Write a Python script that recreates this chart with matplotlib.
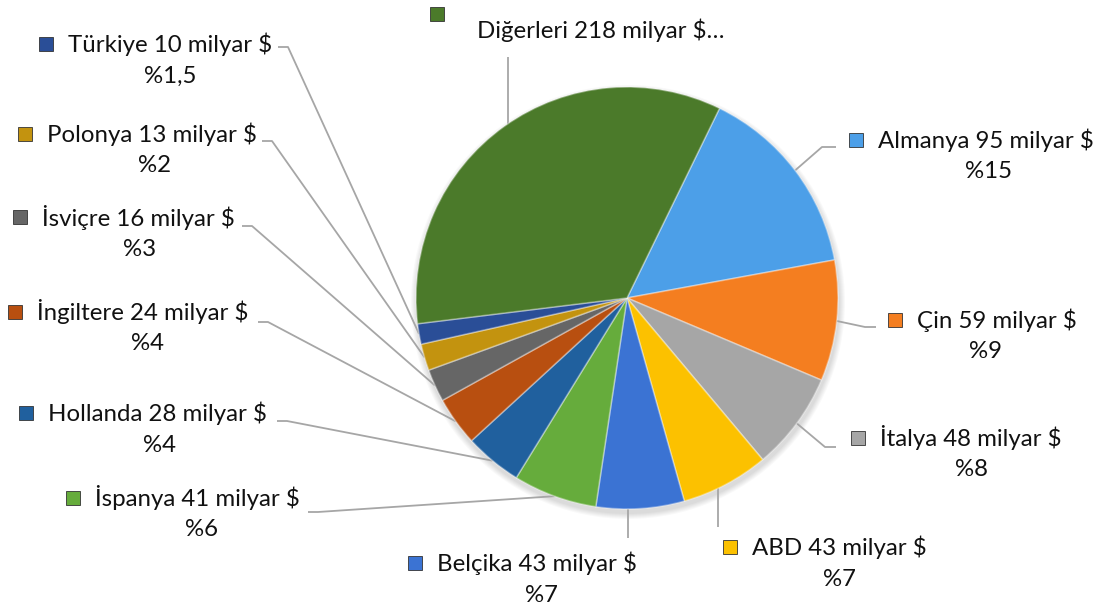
import numpy as np
import matplotlib.pyplot as plt
from matplotlib.patches import Circle

W, H = 1106, 607

# data
names = ["Almanya", "Çin", "İtalya", "ABD", "Belçika", "İspanya", "Hollanda",
         "İngiltere", "İsviçre", "Polonya", "Türkiye", "Diğerleri"]
values = [95, 59, 48, 43, 43, 41, 28, 24, 16, 13, 10, 218]
pct_labels = ["%15", "%9", "%8", "%7", "%7", "%6", "%4", "%4", "%3", "%2", "%1,5", ""]
colors = ["#4c9fe8", "#f47e20", "#a6a6a6", "#fcc100", "#3b73d3", "#66ac3c",
          "#20609e", "#b84f10", "#666666", "#c3930f", "#2a4e97", "#4b7a2a"]

# label layout (pixel coords, y from top): text left x, line1 y, pct centre x,
# connector end (x, y), elbow (x, y) or None for a straight vertical leader
layout = {
    "Almanya":   (878, 140, 988, (836, 147), (822, 147)),
    "Çin":       (917, 320, 985, (876, 327), (865, 327)),
    "İtalya":    (880, 438, 972, (836, 447), (825, 447)),
    "ABD":       (752, 547, 840, (718, 527), None),
    "Belçika":   (437, 563, 541, (628, 538), None),
    "İspanya":   (95, 498, 202, (308, 512), (318, 512)),
    "Hollanda":  (48, 413, 160, (277, 421), (287, 421)),
    "İngiltere": (37, 312, 148, (258, 322), (268, 322)),
    "İsviçre":   (42, 217, 140, (242, 226), (252, 226)),
    "Polonya":   (47, 134, 155, (262, 141), (272, 141)),
    "Türkiye":   (68, 44, 170, (278, 47), (288, 47)),
    "Diğerleri": (477, 30, None, (508, 57), None),
}

cx, cy, r = 627, 298, 211
FONT = "Lato"
FS = 17.3


def fy(y):
    return H - y


fig = plt.figure(figsize=(W / 100, H / 100), dpi=100)
ax = fig.add_axes([0, 0, 1, 1])

# soft shadow under the pie
for k in range(6):
    ax.add_patch(Circle((cx + 1, fy(cy) - 4), r + 6 - k, color="black",
                        alpha=0.025, lw=0, zorder=0))

wedges, _ = ax.pie(values, colors=colors, startangle=64, counterclock=False,
                   center=(cx, fy(cy)), radius=r, frame=True,
                   wedgeprops=dict(edgecolor=(1, 1, 1, 0.35), linewidth=1.2))

for w in wedges:
    w.set_zorder(2)

for w, name, pct, c in zip(wedges, names, pct_labels, colors):
    tx, ty, pcx, conn, elbow = layout[name]
    if elbow is None:
        # vertical leader: meet the rim straight above/below the label end
        dx = conn[0] - cx
        dy = np.sqrt(r ** 2 - dx ** 2)
        ax_x = conn[0]
        ax_y = fy(cy) + (dy if conn[1] < cy else -dy)
    else:
        mid = np.deg2rad((w.theta1 + w.theta2) / 2)
        ax_x = cx + r * np.cos(mid)
        ax_y = fy(cy) + r * np.sin(mid)
    xs = [ax_x]
    ys = [ax_y]
    if elbow is not None:
        xs.append(elbow[0])
        ys.append(fy(elbow[1]))
    xs.append(conn[0])
    ys.append(fy(conn[1]))
    ax.plot(xs, ys, color="#a6a6a6", lw=1.3, zorder=1, solid_capstyle="butt")

    if name == "Diğerleri":
        mx, my = 437, 14
        label = name + " 218 milyar $…"
    else:
        mx, my = tx - 22, ty
        label = f"{name} {values[names.index(name)]} milyar $"
    ax.plot(mx, fy(my), marker="s", ms=9.5, color=c, mec="#333333", mew=0.6,
            zorder=3)
    ax.text(tx, fy(ty), label, fontsize=FS, family=FONT, ha="left",
            va="center", color="#111111")
    if pcx is not None:
        ax.text(pcx, fy(ty + 32), pct, fontsize=FS, family=FONT, ha="center",
                va="center", color="#111111")

ax.set_xlim(0, W)
ax.set_ylim(0, H)
ax.set_aspect("equal")
ax.axis("off")

fig.savefig("out.png", dpi=100, facecolor="white")
